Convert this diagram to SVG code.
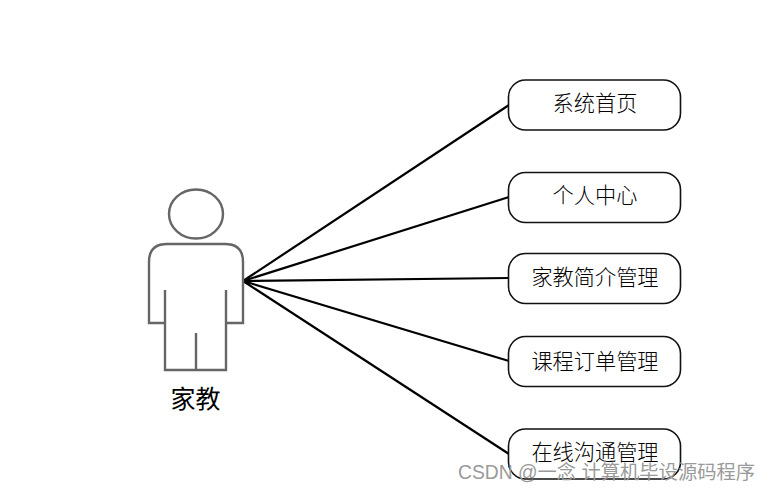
<svg xmlns="http://www.w3.org/2000/svg" width="771" height="491" viewBox="0 0 771 491">
<style>
.box{fill:#fff;stroke:#111;stroke-width:1.6}
.lbl{font-family:"Noto Sans CJK SC","Liberation Serif",serif;font-size:21.2px;font-weight:300;fill:#000;text-anchor:middle}
.actor{fill:none;stroke:#666;stroke-width:2.4}
.conn{stroke:#000;stroke-width:2.2;fill:none}
.wm{font-family:"Liberation Sans","Noto Sans CJK SC",sans-serif;font-size:19.3px;fill:#9a9a9a}
</style>
<rect width="771" height="491" fill="#fff"/>
<g id="connectors">
<line class="conn" x1="243" y1="281" x2="509" y2="105"/>
<line class="conn" x1="243" y1="281" x2="509" y2="197"/>
<line class="conn" x1="243" y1="281" x2="509" y2="278"/>
<line class="conn" x1="243" y1="281" x2="509" y2="361"/>
<line class="conn" x1="243" y1="281" x2="509" y2="454"/>
</g>
<g id="actor">
<ellipse class="actor" cx="196" cy="214" rx="27" ry="24.500"/>
<path class="actor" d="M165 323H149V262Q149 244 167 244H225Q243 244 243 262V323H226M165 290V370H226V290M196 333V370"/>
<text x="195.500" y="408" font-family="'Noto Sans CJK SC',sans-serif" font-size="25" fill="#000" text-anchor="middle">家教</text>
</g>
<g id="node1"><rect class="box" x="508.500" y="80" width="172" height="50" rx="17"/><text class="lbl" x="595" y="111">系统首页</text></g>
<g id="node2"><rect class="box" x="508.500" y="172.500" width="172" height="50" rx="17"/><text class="lbl" x="595" y="203">个人中心</text></g>
<g id="node3"><rect class="box" x="508.500" y="253.500" width="172" height="50" rx="17"/><text class="lbl" x="595" y="285">家教简介管理</text></g>
<g id="node4"><rect class="box" x="508.500" y="336.500" width="172" height="50" rx="17"/><text class="lbl" x="595" y="369">课程订单管理</text></g>
<g id="node5"><rect class="box" x="508.500" y="429" width="172" height="50" rx="17"/><text class="lbl" x="595" y="460">在线沟通管理</text></g>
<text class="wm" x="458" y="479">CSDN @一念 计算机毕设源码程序</text>
</svg>
